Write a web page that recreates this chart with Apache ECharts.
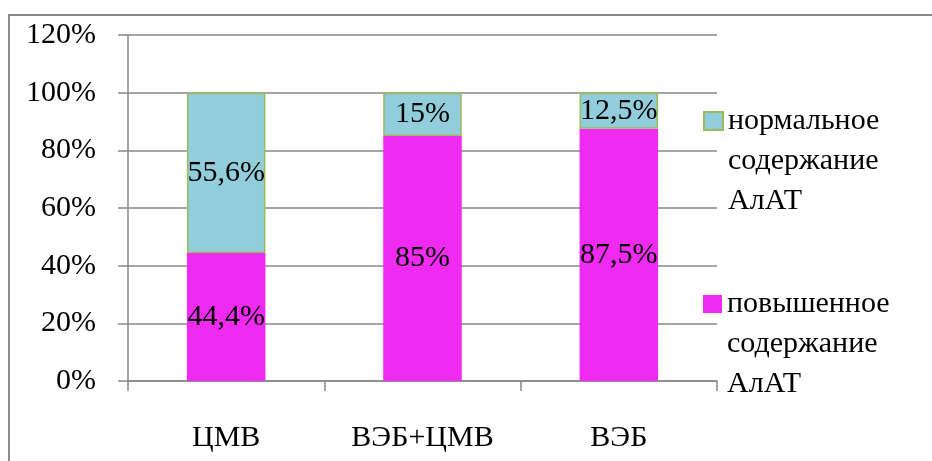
<!DOCTYPE html>
<html><head><meta charset="utf-8">
<script src="https://cdn.jsdelivr.net/npm/echarts@6/dist/echarts.min.js"></script>
<style>html,body{margin:0;padding:0;background:#fff}#c{width:932px;height:461px}</style>
</head><body><div id="c"></div>
<script>
var categories = ['ЦМВ', 'ВЭБ+ЦМВ', 'ВЭБ'];
var elevated = [44.4, 85, 87.5];
var normal = [55.6, 15, 12.5];
var elevatedLabels = ['44,4%', '85%', '87,5%'];
var normalLabels = ['55,6%', '15%', '12,5%'];
var yTicks = [0, 20, 40, 60, 80, 100, 120];
var seriesNames = ['повышенное\nсодержание\nАлАТ', 'нормальное\nсодержание\nАлАТ'];

var FONT = '"Liberation Serif", "Times New Roman", serif';
var FS = 30;
var chart = echarts.init(document.getElementById('c'), null, {renderer: 'canvas'});
var legendText = {fontFamily: FONT, fontSize: FS, color: '#000', lineHeight: 40};
function legendFmt(name) { return '\n\n' + name; }
chart.setOption({
  animation: false,
  graphic: [{type: 'rect', shape: {x: 9, y: 15, width: 1200, height: 1000}, style: {fill: 'none', stroke: '#8a8a8a', lineWidth: 2}, z: -1}],
  grid: {left: 128, right: 215, top: 35, bottom: 80},
  legend: [
    {data: [seriesNames[1]], left: 703, top: 21, padding: 0, orient: 'vertical', icon: 'rect', itemWidth: 19, itemHeight: 18, textStyle: legendText, formatter: legendFmt, selectedMode: false},
    {data: [seriesNames[0]], left: 703, top: 204, padding: 0, orient: 'vertical', icon: 'rect', itemWidth: 19, itemHeight: 18, textStyle: legendText, formatter: legendFmt, selectedMode: false}
  ],
  xAxis: {
    type: 'category', data: categories,
    axisLine: {lineStyle: {color: '#888', width: 1.5}},
    axisTick: {show: true, length: 10, lineStyle: {color: '#888', width: 1.5}},
    axisLabel: {fontFamily: FONT, fontSize: FS, color: '#000', margin: 42}
  },
  yAxis: {
    type: 'value', min: yTicks[0], max: yTicks[yTicks.length - 1], interval: 20,
    axisLine: {show: true, lineStyle: {color: '#888', width: 1.5}},
    axisTick: {show: true, length: 10, lineStyle: {color: '#888', width: 1.5}},
    splitLine: {lineStyle: {color: '#888', width: 1.5}},
    axisLabel: {fontFamily: FONT, fontSize: FS, color: '#000', margin: 32, formatter: function (v) { return v + '%'; }}
  },
  series: [
    {name: seriesNames[0], type: 'bar', stack: 'a', barWidth: '40%', data: elevated,
     itemStyle: {color: '#F02AF0'},
     label: {show: true, position: 'inside', fontFamily: FONT, fontSize: FS, color: '#000', formatter: function (p) { return elevatedLabels[p.dataIndex]; }}},
    {name: seriesNames[1], type: 'bar', stack: 'a', barWidth: '40%', data: normal,
     itemStyle: {color: '#92CDDC', borderColor: '#9BBB59', borderWidth: 1.5},
     label: {show: true, position: 'inside', fontFamily: FONT, fontSize: FS, color: '#000', formatter: function (p) { return normalLabels[p.dataIndex]; }}}
  ]
});
</script></body></html>
